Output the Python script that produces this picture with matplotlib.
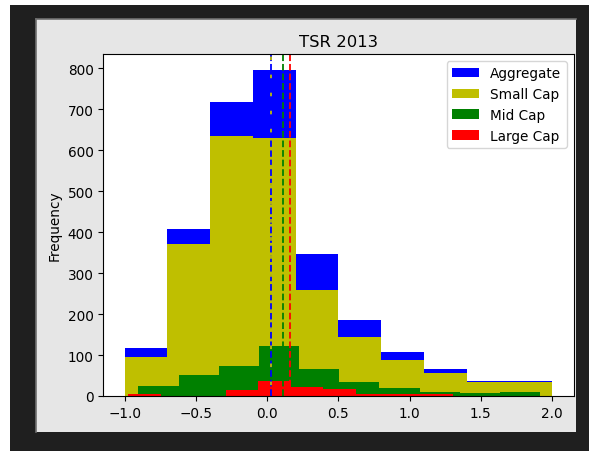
import numpy as np
import matplotlib
matplotlib.use("Agg")
import matplotlib.pyplot as plt
from matplotlib.patches import Rectangle
from matplotlib.lines import Line2D

# ---- data ----
agg_edges = np.linspace(-1.0, 2.0, 11)
agg_counts = [116, 407, 717, 795, 346, 185, 108, 67, 37, 37]

small_edges = np.linspace(-1.0, 2.0, 11)
small_counts = [94, 370, 634, 629, 259, 144, 87, 55, 33, 33]

mid_edges = np.linspace(-0.904, 1.916, 11)
mid_counts = [24, 51, 73, 121, 67, 35, 20, 10, 7, 10]

large_edges = np.linspace(-0.974, 1.306, 11)
large_counts = [5, 0, 0, 14, 37, 21, 18, 6, 5, 5]

means = {"Aggregate": 0.028, "Small Cap": 0.028, "Mid Cap": 0.109, "Large Cap": 0.160}
labels = ["Aggregate", "Small Cap", "Mid Cap", "Large Cap"]
colors = ["#0000ff", "#bfbf00", "#008000", "#ff0000"]

plt.rcParams["font.family"] = "DejaVu Sans"
plt.rcParams["font.size"] = 9.8

W, H = 589, 452
fig = plt.figure(figsize=(W / 100, H / 100), dpi=100)
fig.patch.set_facecolor("white")
# screenshot frame
fig.add_artist(Rectangle((10 / W, 0), 1 - 10 / W, 1 - 6 / H, transform=fig.transFigure,
                         facecolor="#1f1f1f", edgecolor="none", zorder=-10))
fig.add_artist(Rectangle((36 / W, 19 / H), 540 / W, 413 / H, transform=fig.transFigure,
                         facecolor="#e6e6e6", edgecolor="none", zorder=-9))
fig.add_artist(Line2D([36 / W, 36 / W], [19 / H, 432 / H], transform=fig.transFigure,
                      color="#707070", lw=1.2, zorder=-8))
fig.add_artist(Line2D([36 / W, 576 / W], [432 / H, 432 / H], transform=fig.transFigure,
                      color="#707070", lw=1.2, zorder=-8))

ax = fig.add_axes([103.3 / W, (H - 397) / H, (573.5 - 103.3) / W, (397 - 55) / H])

datasets = [(agg_edges, agg_counts), (small_edges, small_counts),
            (mid_edges, mid_counts), (large_edges, large_counts)]
for (edges, counts), lab, col in zip(datasets, labels, colors):
    centers = (edges[:-1] + edges[1:]) / 2
    ax.hist(centers, bins=edges, weights=counts, histtype="stepfilled",
            color=col, label=lab, linewidth=0)

ax.axvline(means["Aggregate"], color=colors[0], linestyle="--", lw=1.3)
ax.axvline(means["Small Cap"], color=colors[1], linestyle=(4.0, (2.0, 8.0)), lw=1.3)
ax.axvline(means["Mid Cap"], color=colors[2], linestyle="--", lw=1.3)
ax.axvline(means["Large Cap"], color=colors[3], linestyle="--", lw=1.3)

ax.set_xlim(-1.15, 2.15)
ax.set_ylim(0, 835)
ax.set_xticks([-1.0, -0.5, 0.0, 0.5, 1.0, 1.5, 2.0])
ax.set_yticks(range(0, 801, 100))
ax.set_ylabel("Frequency")
ax.set_title("TSR 2013", fontsize=11.8)
ax.legend(loc="upper right")

fig.savefig("out.png", dpi=100, facecolor=fig.get_facecolor())
